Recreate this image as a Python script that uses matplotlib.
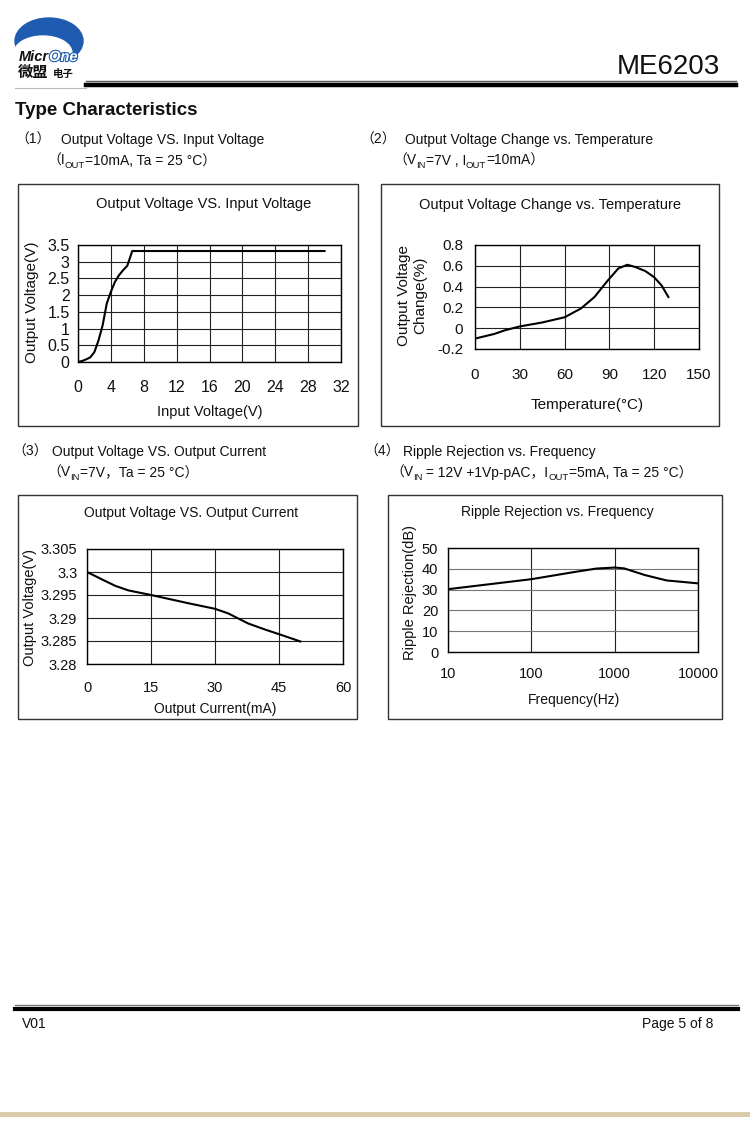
import matplotlib
matplotlib.use("Agg")
import matplotlib.pyplot as plt
import matplotlib.patheffects as pe
from matplotlib.patches import Rectangle, Ellipse

plt.rcParams['font.family'] = ['Liberation Sans', 'Noto Sans CJK SC', 'DejaVu Sans']

W, H = 750, 1127

# ---------------- data ----------------
vin = [0, 0.5, 1, 1.5, 2, 2.5, 3, 3.5, 4, 4.5, 5, 5.5, 6, 6.6, 30]
vout = [0, 0.03, 0.08, 0.14, 0.3, 0.65, 1.1, 1.75, 2.1, 2.4, 2.6, 2.75, 2.88, 3.32, 3.32]
vin_ticks = [0, 4, 8, 12, 16, 20, 24, 28, 32]
vout_ticks = [0, 0.5, 1, 1.5, 2, 2.5, 3, 3.5]
vout_labels = ["0", "0.5", "1", "1.5", "2", "2.5", "3", "3.5"]

temp = [0, 13, 20, 30, 45, 60, 71, 80, 89, 96, 102, 107, 114, 120, 125, 129.5]
dv = [-0.10, -0.055, -0.02, 0.017, 0.055, 0.105, 0.19, 0.30, 0.46, 0.575, 0.61, 0.59, 0.55, 0.49, 0.41, 0.30]
temp_ticks = [0, 30, 60, 90, 120, 150]
dv_ticks = [-0.2, 0, 0.2, 0.4, 0.6, 0.8]
dv_labels = ["-0.2", "0", "0.2", "0.4", "0.6", "0.8"]

iout = [0, 3.5, 6.6, 9.7, 15, 19.9, 23.8, 30, 33.1, 37.8, 41.7, 45.6, 50]
vo = [3.300, 3.2984, 3.297, 3.296, 3.295, 3.294, 3.2932, 3.292, 3.291, 3.2888, 3.2875, 3.2863, 3.2849]
iout_ticks = [0, 15, 30, 45, 60]
vo_ticks = [3.28, 3.285, 3.29, 3.295, 3.3, 3.305]
vo_labels = ["3.28", "3.285", "3.29", "3.295", "3.3", "3.305"]

freq = [10, 100, 300, 600, 1000, 1300, 2300, 4200, 10000]
rr = [30.2, 35, 38.2, 40.1, 40.6, 40.2, 37, 34.4, 33]
freq_ticks = [10, 100, 1000, 10000]
freq_labels = ["10", "100", "1000", "10000"]
rr_ticks = [0, 10, 20, 30, 40, 50]
rr_labels = ["0", "10", "20", "30", "40", "50"]

# ---------------- figure ----------------
fig = plt.figure(figsize=(W / 100, H / 100), dpi=100)
fig.patch.set_facecolor('white')

bg = fig.add_axes([0, 0, 1, 1])
bg.set_xlim(0, W)
bg.set_ylim(H, 0)
bg.axis('off')
renderer = fig.canvas.get_renderer()


def fx(x):
    return x / W


def fy(y):
    return 1 - y / H


def add_ax(l, t, r, b):
    return fig.add_axes([fx(l), fy(b), (r - l) / W, (b - t) / H])


# header / logo
BLUE = '#1f5bb0'
bg.add_patch(Ellipse((49, 41), 68, 46, color=BLUE, zorder=2))
bg.add_patch(Ellipse((43, 53), 58, 34, color='white', zorder=3))
t = bg.text(19, 61, "Micr", fontsize=10.5, fontweight='bold', fontstyle='italic',
            color='#111', va='baseline', zorder=4)
wm = t.get_window_extent(renderer=renderer).width
bg.text(19 + wm, 61, "One", fontsize=10.5, fontweight='bold', fontstyle='italic',
        color='white', va='baseline', zorder=4,
        path_effects=[pe.withStroke(linewidth=1.6, foreground=BLUE)])
bg.text(18, 77, "微盟", fontsize=11, fontweight='bold', color='#111', va='baseline', zorder=4)
bg.text(53, 77, "电子", fontsize=7.5, fontweight='bold', color='#111', va='baseline', zorder=4)
bg.text(720, 74, "ME6203", fontsize=20, ha='right', va='baseline',
        family=['Liberation Sans Narrow', 'Liberation Sans'], color='#111')
bg.plot([86, 736], [81, 81], color='#555', lw=1)
bg.plot([86, 736], [85, 85], color='black', lw=3.2)
bg.plot([15, 86], [88, 88], color='#bbb', lw=0.8)
bg.text(15, 115, "Type Characteristics", fontsize=13.5, fontweight='bold', va='baseline', color='#111')

# footer
bg.plot([15, 738], [1005, 1005], color='#777', lw=1)
bg.plot([15, 738], [1009, 1009], color='black', lw=3)
bg.text(22, 1028, "V01", fontsize=10, va='baseline', color='#111')
bg.text(713, 1028, "Page 5 of 8", fontsize=10, ha='right', va='baseline', color='#111')
bg.add_patch(Rectangle((0, 1112), W, 5, color='#dccbab', lw=0))


def rich(x, y, pieces, size=10):
    for s, sub in pieces:
        if sub:
            tt = bg.text(x, y + 3, s, fontsize=size * 0.68, va='baseline', color='#111')
        else:
            tt = bg.text(x, y, s, fontsize=size, va='baseline', color='#111')
        x += tt.get_window_extent(renderer=renderer).width


rich(15, 144, [("（1）", False)])
rich(61, 144, [("Output Voltage VS. Input Voltage", False)])
rich(47, 165, [("（I", False), ("OUT", True), ("=10mA, Ta = 25 °C）", False)])

rich(360, 144, [("（2）", False)])
rich(405, 144, [("Output Voltage Change vs. Temperature", False)])
rich(393, 165, [("（V", False), ("IN", True), ("=7V , I", False), ("OUT", True), ("=10mA）", False)])

rich(12, 456, [("（3）", False)])
rich(52, 456, [("Output Voltage VS. Output Current", False)])
rich(47, 477, [("（V", False), ("IN", True), ("=7V，Ta = 25 °C）", False)])

rich(364, 456, [("（4）", False)])
rich(403, 456, [("Ripple Rejection vs. Frequency", False)])
rich(390, 477, [("（V", False), ("IN", True), (" = 12V +1Vp-pAC，I", False), ("OUT", True),
                ("=5mA, Ta = 25 °C）", False)])

# chart boxes
for (l, t_, r, b) in [(18, 184, 358, 426), (381, 184, 719, 426), (18, 495, 357, 719), (388, 495, 722, 719)]:
    bg.add_patch(Rectangle((l, t_), r - l, b - t_, fill=False, ec='#333', lw=1))


def style(ax, xpad, ypad, size):
    for s in ax.spines.values():
        s.set_color('black')
        s.set_linewidth(1)
    ax.tick_params(length=0, labelsize=size, colors='#111')
    ax.tick_params(axis='x', pad=xpad)
    ax.tick_params(axis='y', pad=ypad)
    ax.set_facecolor('white')


# chart 1
ax1 = add_ax(78, 245, 341, 362)
ax1.plot(vin, vout, color='black', lw=1.5)
ax1.set_xlim(0, 32)
ax1.set_ylim(0, 3.5)
ax1.set_xticks(vin_ticks)
ax1.set_yticks(vout_ticks, vout_labels)
ax1.grid(True, color='#222', lw=0.8)
style(ax1, 13, 6, 11.5)
bg.text(204, 204, "Output Voltage VS. Input Voltage", fontsize=10.5, ha='center', va='center', color='#111')
bg.text(210, 412, "Input Voltage(V)", fontsize=10.5, ha='center', va='center', color='#111')
bg.text(32, 302, "Output Voltage(V)", fontsize=11, ha='center', va='center', rotation=90, color='#111')

# chart 2
ax2 = add_ax(475, 245, 699, 349)
ax2.plot(temp, dv, color='black', lw=1.5)
ax2.set_xlim(0, 150)
ax2.set_ylim(-0.2, 0.8)
ax2.set_xticks(temp_ticks)
ax2.set_yticks(dv_ticks, dv_labels)
ax2.grid(True, color='#222', lw=0.8)
style(ax2, 13.5, 8.5, 11)
bg.text(550, 205, "Output Voltage Change vs. Temperature", fontsize=10.5, ha='center', va='center', color='#111')
bg.text(587, 405, "Temperature(°C)", fontsize=11, ha='center', va='center', color='#111')
bg.text(412, 295, "Output Voltage\nChange(%)", fontsize=11, ha='center', va='center', rotation=90,
        linespacing=1.15, color='#111')

# chart 3
ax3 = add_ax(87, 549, 343, 664)
ax3.plot(iout, vo, color='black', lw=1.5)
ax3.set_xlim(0, 60)
ax3.set_ylim(3.28, 3.305)
ax3.set_xticks(iout_ticks)
ax3.set_yticks(vo_ticks, vo_labels)
ax3.grid(True, color='#222', lw=0.8)
style(ax3, 12, 7, 10.5)
bg.text(191, 513, "Output Voltage VS. Output Current", fontsize=10, ha='center', va='center', color='#111')
bg.text(215, 709, "Output Current(mA)", fontsize=10, ha='center', va='center', color='#111')
bg.text(30, 607, "Output Voltage(V)", fontsize=10.5, ha='center', va='center', rotation=90, color='#111')

# chart 4
ax4 = add_ax(448, 548, 698, 652)
ax4.plot(freq, rr, color='black', lw=1.5)
ax4.set_xscale('log')
ax4.set_xlim(10, 10000)
ax4.set_ylim(0, 50)
ax4.set_xticks(freq_ticks, freq_labels)
ax4.minorticks_off()
ax4.set_yticks(rr_ticks, rr_labels)
ax4.grid(True, axis='x', color='#222', lw=0.8)
ax4.grid(True, axis='y', color='#777', lw=0.8)
style(ax4, 11, 7, 10.5)
bg.text(557, 512, "Ripple Rejection vs. Frequency", fontsize=10, ha='center', va='center', color='#111')
bg.text(574, 700, "Frequency(Hz)", fontsize=10, ha='center', va='center', color='#111')
bg.text(410, 593, "Ripple Rejection(dB)", fontsize=10.5, ha='center', va='center', rotation=90, color='#111')

fig.savefig("out.png", dpi=100, facecolor='white')
